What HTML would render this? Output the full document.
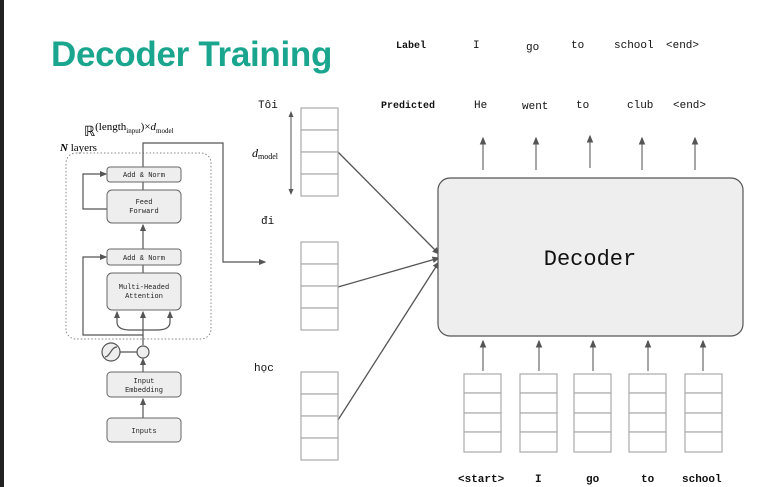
<!DOCTYPE html>
<html><head><meta charset="utf-8"><style>
body{margin:0;width:778px;height:487px;overflow:hidden;background:#fff;position:relative;font-family:"Liberation Mono",monospace}
.t{position:absolute;white-space:nowrap}
</style></head><body>
<div style="position:absolute;left:0;top:0;width:4px;height:487px;background:#222"></div>
<div class="t" style="left:51px;top:35px;font:bold 35px 'Liberation Sans',sans-serif;color:#1aa68e;letter-spacing:-0.3px">Decoder Training</div>
<svg width="778" height="487" style="position:absolute;left:0;top:0" font-family="Liberation Mono,monospace">
<defs><marker id="a" markerWidth="6" markerHeight="6" refX="5" refY="3" orient="auto"><path d="M0,0.5L6,3L0,5.5z" fill="#555"/></marker>
<marker id="b" markerWidth="6" markerHeight="6" refX="1" refY="3" orient="auto"><path d="M6,0.5L0,3L6,5.5z" fill="#555"/></marker></defs>
<g font-size="11" fill="#111">
<text x="396" y="48" font-weight="bold" font-size="10">Label</text>
<text x="473" y="48">I</text><text x="526" y="50">go</text><text x="571" y="48">to</text><text x="614" y="48">school</text><text x="666" y="48">&lt;end&gt;</text>
<text x="381" y="108" font-weight="bold" font-size="10">Predicted</text>
<text x="474" y="108">He</text><text x="522" y="109">went</text><text x="576" y="108">to</text><text x="627" y="108">club</text><text x="673" y="108">&lt;end&gt;</text>
<text x="458" y="482" font-weight="bold">&lt;start&gt;</text><text x="535" y="482" font-weight="bold">I</text><text x="586" y="482" font-weight="bold">go</text><text x="641" y="482" font-weight="bold">to</text><text x="682" y="482" font-weight="bold">school</text>
<text x="258" y="108">Tôi</text><text x="261" y="224">đi</text><text x="254" y="371">học</text>
</g>
<g stroke="#777" stroke-width="1.3" marker-end="url(#a)">
<line x1="483" y1="170" x2="483" y2="138"/><line x1="536" y1="170" x2="536" y2="138"/><line x1="590" y1="168" x2="590" y2="136"/><line x1="642" y1="170" x2="642" y2="138"/><line x1="695" y1="170" x2="695" y2="138"/>
<line x1="483" y1="371" x2="483" y2="341"/><line x1="539" y1="371" x2="539" y2="341"/><line x1="593" y1="371" x2="593" y2="341"/><line x1="648" y1="371" x2="648" y2="341"/><line x1="703" y1="371" x2="703" y2="341"/>
<line x1="338" y1="152" x2="439" y2="254" stroke="#555"/><line x1="338" y1="287" x2="439" y2="258" stroke="#555"/><line x1="338" y1="420" x2="439" y2="262" stroke="#555"/>
</g>
<rect x="438" y="178" width="305" height="158" rx="12" fill="#eee" stroke="#555" stroke-width="1.2"/>
<text x="590" y="265" text-anchor="middle" font-size="22" fill="#111">Decoder</text>
<g fill="#fff" stroke="#aaa" stroke-width="1.2">
<g transform="translate(301,108)"><rect width="37" height="22"/><rect y="22" width="37" height="22"/><rect y="44" width="37" height="22"/><rect y="66" width="37" height="22"/></g>
<g transform="translate(301,242)"><rect width="37" height="22"/><rect y="22" width="37" height="22"/><rect y="44" width="37" height="22"/><rect y="66" width="37" height="22"/></g>
<g transform="translate(301,372)"><rect width="37" height="22"/><rect y="22" width="37" height="22"/><rect y="44" width="37" height="22"/><rect y="66" width="37" height="22"/></g>
<g transform="translate(464,374)"><rect width="37" height="19"/><rect y="19" width="37" height="20"/><rect y="39" width="37" height="19"/><rect y="58" width="37" height="20"/></g>
<g transform="translate(520,374)"><rect width="37" height="19"/><rect y="19" width="37" height="20"/><rect y="39" width="37" height="19"/><rect y="58" width="37" height="20"/></g>
<g transform="translate(574,374)"><rect width="37" height="19"/><rect y="19" width="37" height="20"/><rect y="39" width="37" height="19"/><rect y="58" width="37" height="20"/></g>
<g transform="translate(629,374)"><rect width="37" height="19"/><rect y="19" width="37" height="20"/><rect y="39" width="37" height="19"/><rect y="58" width="37" height="20"/></g>
<g transform="translate(685,374)"><rect width="37" height="19"/><rect y="19" width="37" height="20"/><rect y="39" width="37" height="19"/><rect y="58" width="37" height="20"/></g>
</g>
<line x1="291" y1="112" x2="291" y2="194" stroke="#555" marker-end="url(#a)" marker-start="url(#b)"/>
<text x="252" y="157" font-family="Liberation Serif,serif" font-size="12" font-style="italic">d<tspan font-size="8" font-style="normal" dy="2">model</tspan></text>
<text x="84" y="136" font-family="Liberation Serif,serif" font-size="14">ℝ<tspan font-size="11" dy="-6">(length</tspan><tspan font-size="7" dy="3">input</tspan><tspan font-size="11" dy="-3">)×</tspan><tspan font-size="11" font-style="italic">d</tspan><tspan font-size="7" dy="3">model</tspan></text>
<text x="60" y="151" font-family="Liberation Serif,serif" font-size="11"><tspan font-style="italic" font-weight="bold">N</tspan> layers</text>
<rect x="66" y="153" width="145" height="186" rx="10" fill="none" stroke="#888" stroke-dasharray="1.5,2"/>
<g stroke="#555" stroke-width="1.2" fill="none">
<path d="M143,167 L143,143 L223,143 L223,262 L265,262" marker-end="url(#a)"/>
<line x1="143" y1="190" x2="143" y2="182"/>
<line x1="143" y1="249" x2="143" y2="225" marker-end="url(#a)"/>
<line x1="143" y1="273" x2="143" y2="265"/>
<path d="M107,209 L83,209 L83,174 L106,174" marker-end="url(#a)"/>
<path d="M143,345 L143,335 L83,335 L83,257 L106,257" marker-end="url(#a)"/>
<line x1="143" y1="335" x2="143" y2="312" marker-end="url(#a)"/>
<path d="M117,312 L117,322 Q117,330 130,330 L157,330 Q170,330 170,322 L170,312" marker-start="url(#b)" marker-end="url(#a)"/>
<line x1="120" y1="352" x2="137" y2="352"/>
<line x1="143" y1="372" x2="143" y2="359" marker-end="url(#a)"/>
<line x1="143" y1="418" x2="143" y2="399" marker-end="url(#a)"/>
<circle cx="111" cy="352" r="9" fill="#eee"/><path d="M105,357 C110,357 111,347 117,347"/>
<circle cx="143" cy="352" r="6" fill="#eee"/>
</g>
<g fill="#eee" stroke="#666">
<rect x="107" y="167" width="74" height="15" rx="3"/><rect x="107" y="190" width="74" height="33" rx="5"/>
<rect x="107" y="249" width="74" height="16" rx="3"/><rect x="107" y="273" width="74" height="37" rx="5"/>
<rect x="107" y="372" width="74" height="25" rx="4"/><rect x="107" y="418" width="74" height="24" rx="4"/>
</g>
<g font-size="7" text-anchor="middle" fill="#222">
<text x="144" y="177">Add &amp; Norm</text><text x="144" y="204">Feed</text><text x="144" y="213">Forward</text>
<text x="144" y="260">Add &amp; Norm</text><text x="144" y="289">Multi-Headed</text><text x="144" y="298">Attention</text>
<text x="144" y="383">Input</text><text x="144" y="392">Embedding</text><text x="144" y="433">Inputs</text>
</g>
</svg>
</body></html>
